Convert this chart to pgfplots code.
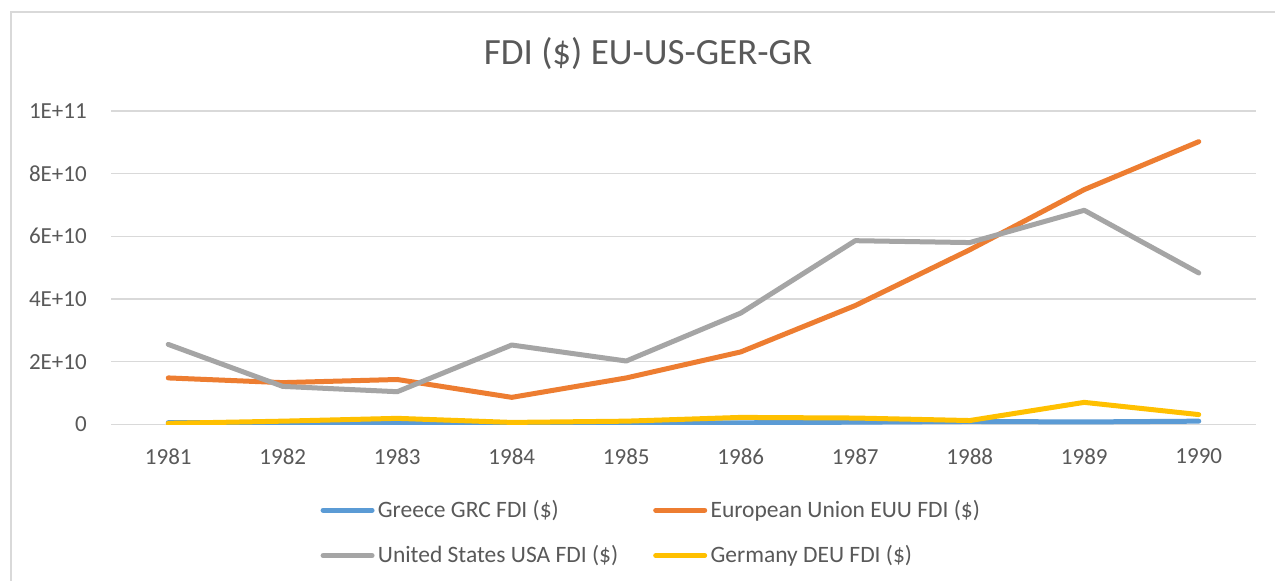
\documentclass[border=0pt]{standalone}
\usepackage{pgfplots}
\pgfplotsset{compat=1.18}
\usepackage{fontspec}
\setmainfont{Carlito}
\definecolor{cblue}{HTML}{5B9BD5}
\definecolor{corange}{HTML}{ED7D31}
\definecolor{cgray}{HTML}{A5A5A5}
\definecolor{cyellow}{HTML}{FFC000}
\definecolor{gridc}{HTML}{D9D9D9}
\definecolor{txt}{HTML}{595959}
\begin{document}
\begin{tikzpicture}[x=0.6pt,y=0.6pt]
\useasboundingbox (0,0) rectangle (1275,581);
\fill[white] (0,0) rectangle (1275,581);
\draw[color=gridc, line width=0.9pt] (11,-5) -- (11,569) -- (1280,569);
\node[text=txt, anchor=base, font=\fontsize{22.2}{26}\selectfont] at (648,516) {FDI (\$) EU-US-GER-GR};
\begin{axis}[
  at={(66.6pt,94.02pt)}, anchor=south west,
  scale only axis, width=687pt, height=188pt,
  xmin=1980.5, xmax=1990.5, ymin=0, ymax=1e11,
  xtick={1981,1982,1983,1984,1985,1986,1987,1988,1989,1990},
  xticklabels={1981,1982,1983,1984,1985,1986,1987,1988,1989,1990},
  ytick={0,2e10,4e10,6e10,8e10,1e11},
  yticklabels={0,2E+10,4E+10,6E+10,8E+10,1E+11},
  scaled y ticks=false,
  axis line style={draw=none},
  major tick length=0pt,
  ymajorgrids, grid style={gridc, line width=0.9pt},
  ticklabel style={text=txt, font=\fontsize{13.8}{16}\selectfont},
  yticklabel style={anchor=east, inner sep=0pt, xshift=-14.4pt},
  xticklabel style={anchor=center, inner sep=0pt, yshift=-19.2pt},
  /pgf/number format/assume math mode=true,
  every axis plot/.append style={line width=3pt, line cap=round, line join=round, no markers},
  legend columns=2,
  legend cell align=left,
  legend image code/.code={\draw[#1, line width=3pt, line cap=round] (0pt,0pt) -- (29.4pt,0pt);},
  legend style={draw=none, fill=none, at={(rel axis cs:0.471,-0.3466)}, anchor=center,
    font=\fontsize{14.1}{16}\selectfont, text=txt,
    nodes={inner sep=0pt},
    column sep=2pt, row sep=15.4pt,
    /tikz/every even column/.append style={column sep=21pt}},
]
\addplot[cblue] coordinates {(1981,5.2e8) (1982,4.4e8) (1983,4.4e8) (1984,4.9e8) (1985,4.5e8) (1986,4.7e8) (1987,6.8e8) (1988,9.1e8) (1989,7.5e8) (1990,1.0e9)};
\addlegendentry{Greece GRC FDI (\$)}
\addplot[corange] coordinates {(1981,1.48e10) (1982,1.33e10) (1983,1.43e10) (1984,8.6e9) (1985,1.48e10) (1986,2.31e10) (1987,3.79e10) (1988,5.57e10) (1989,7.49e10) (1990,9.02e10)};
\addlegendentry{European Union EUU FDI (\$)}
\addplot[cgray] coordinates {(1981,2.55e10) (1982,1.21e10) (1983,1.04e10) (1984,2.53e10) (1985,2.02e10) (1986,3.55e10) (1987,5.86e10) (1988,5.8e10) (1989,6.83e10) (1990,4.83e10)};
\addlegendentry{United States USA FDI (\$)}
\addplot[cyellow] coordinates {(1981,3e8) (1982,1.0e9) (1983,1.9e9) (1984,6e8) (1985,1.0e9) (1986,2.2e9) (1987,2.0e9) (1988,1.2e9) (1989,7.0e9) (1990,3.1e9)};
\addlegendentry{Germany DEU FDI (\$)}
\end{axis}
\end{tikzpicture}
\end{document}
